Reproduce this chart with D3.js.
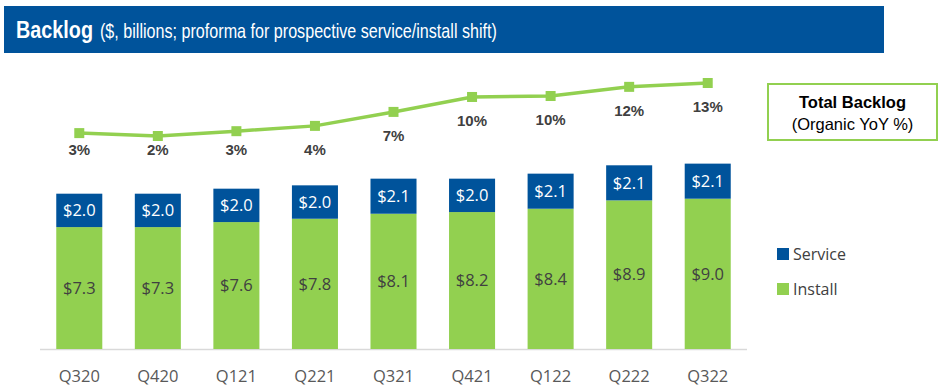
<!DOCTYPE html>
<html><head><meta charset="utf-8">
<script src="https://cdn.jsdelivr.net/npm/d3@7"></script>
<style>html,body{margin:0;padding:0;background:#fff;}svg{display:block;}</style>
</head><body>
<svg id="chart" width="945" height="391"></svg>
<script>
const categories = ["Q320","Q420","Q121","Q221","Q321","Q421","Q122","Q222","Q322"];
const install = [7.3,7.3,7.6,7.8,8.1,8.2,8.4,8.9,9.0];
const service = [2.0,2.0,2.0,2.0,2.1,2.0,2.1,2.1,2.1];
const yoy = [2.6,2.0,3.0,4.1,7.0,10.1,10.3,12.2,13.0];
const yoyLabels = ["3%","2%","3%","4%","7%","10%","10%","12%","13%"];
const seriesNames = ["Service","Install"];

const BLUE = "#00539B", GREEN = "#92D050", DARK = "#404040";
const svg = d3.select("#chart");

// Title bar
svg.append("rect").attr("x",4).attr("y",6).attr("width",880).attr("height",47).attr("fill",BLUE);
function fitText(x0, y0, width, text, size, weight){
  const gg = svg.append("g");
  const t = gg.append("text").attr("x",0).attr("y",0).attr("fill","#fff")
    .attr("font-family","Liberation Sans, Arial, sans-serif").attr("font-size",size)
    .attr("font-weight",weight).text(text);
  const len = t.node().getComputedTextLength();
  gg.attr("transform",`translate(${x0},${y0}) scale(${width/len},1)`);
}
fitText(16, 38, 77, "Backlog", 24.5, "bold");
fitText(100, 38, 397, "($, billions; proforma for prospective service/install shift)", 20.5, "normal");

const x = d3.scaleBand().domain(categories).range([40,747]).paddingInner(0.414).paddingOuter(0.207);
const y = d3.scaleLinear().domain([0,10]).range([349,182]);
const yl = d3.scaleLinear().domain([2,13]).range([136,83]);

// axis line
svg.append("line").attr("x1",40).attr("x2",747).attr("y1",349.5).attr("y2",349.5)
  .attr("stroke","#D9D9D9").attr("stroke-width",1.5);

const data = categories.map((c,i)=>({c, install:install[i], service:service[i], yoy:yoy[i], lab:yoyLabels[i]}));

const g = svg.append("g");
g.selectAll(".inst").data(data).join("rect").attr("class","inst")
  .attr("x",d=>x(d.c)).attr("width",x.bandwidth())
  .attr("y",d=>y(d.install)).attr("height",d=>y(0)-y(d.install)).attr("fill",GREEN);
g.selectAll(".serv").data(data).join("rect").attr("class","serv")
  .attr("x",d=>x(d.c)).attr("width",x.bandwidth())
  .attr("y",d=>y(d.install+d.service)).attr("height",d=>y(d.install)-y(d.install+d.service)).attr("fill",BLUE);

const fmt = v => "$" + d3.format(".1f")(v);
g.selectAll(".instLab").data(data).join("text")
  .attr("x",d=>x(d.c)+x.bandwidth()/2).attr("y",d=>(y(0)+y(d.install))/2)
  .attr("dy","0.35em").attr("text-anchor","middle").attr("fill",DARK)
  .attr("font-family","Open Sans, sans-serif").attr("font-size",16.5).text(d=>fmt(d.install));
g.selectAll(".servLab").data(data).join("text")
  .attr("x",d=>x(d.c)+x.bandwidth()/2).attr("y",d=>(y(d.install)+y(d.install+d.service))/2)
  .attr("dy","0.35em").attr("text-anchor","middle").attr("fill","#fff")
  .attr("font-family","Open Sans, sans-serif").attr("font-size",16.5).text(d=>fmt(d.service));

g.selectAll(".xl").data(categories).join("text")
  .attr("x",d=>x(d)+x.bandwidth()/2).attr("y",382).attr("text-anchor","middle")
  .attr("fill","#595959").attr("font-family","Open Sans, sans-serif").attr("font-size",16.5).text(d=>d);

const cx = d => x(d.c)+x.bandwidth()/2;
svg.append("path").datum(data)
  .attr("d", d3.line().x(cx).y(d=>yl(d.yoy)))
  .attr("fill","none").attr("stroke",GREEN).attr("stroke-width",3.5);
svg.selectAll(".mk").data(data).join("rect").attr("class","mk")
  .attr("x",d=>cx(d)-5).attr("y",d=>yl(d.yoy)-5).attr("width",10).attr("height",10).attr("fill",GREEN);
svg.selectAll(".pl").data(data).join("text").attr("class","pl")
  .attr("x",cx).attr("y",d=>Math.min(yl(d.yoy)+24,150)).attr("dy","0.35em").attr("text-anchor","middle")
  .attr("fill",DARK).attr("font-family","Liberation Sans, Arial, sans-serif").attr("font-weight","bold")
  .attr("font-size",15).text(d=>d.lab);

svg.append("rect").attr("x",768).attr("y",84).attr("width",169).attr("height",56)
  .attr("fill","#fff").attr("stroke",GREEN).attr("stroke-width",2);
svg.append("text").attr("x",852.5).attr("y",108).attr("text-anchor","middle").attr("fill","#000")
  .attr("font-family","Liberation Sans, Arial, sans-serif").attr("font-weight","bold").attr("font-size",16.5)
  .text("Total Backlog");
svg.append("text").attr("x",852.5).attr("y",130).attr("text-anchor","middle").attr("fill","#000")
  .attr("font-family","Liberation Sans, Arial, sans-serif").attr("font-size",16.5)
  .text("(Organic YoY %)");

const leg = svg.append("g").selectAll("g").data(seriesNames).join("g")
  .attr("transform",(d,i)=>`translate(777,${248+i*35})`);
leg.append("rect").attr("width",12).attr("height",12).attr("fill",(d,i)=>i===0?BLUE:GREEN);
leg.append("text").attr("x",16).attr("y",6).attr("dy","0.35em").attr("fill",DARK)
  .attr("font-family","Open Sans, sans-serif").attr("font-size",16).text(d=>d);
</script>
</body></html>
